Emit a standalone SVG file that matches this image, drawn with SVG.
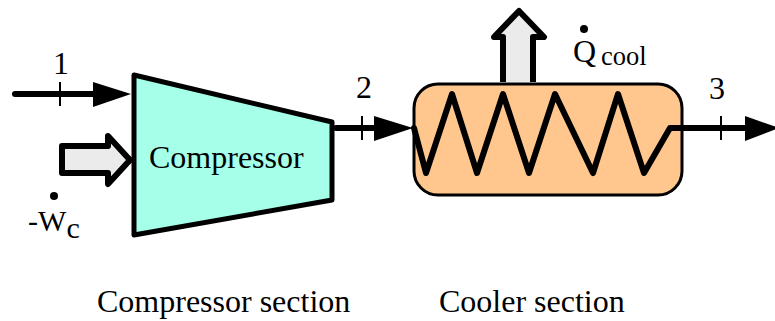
<svg xmlns="http://www.w3.org/2000/svg" width="775" height="321" viewBox="0 0 775 321">
<style>
text{font-family:"Liberation Serif","Times New Roman",serif;fill:#000;font-size:32px}
.l{fill:none;stroke:#000;stroke-width:6;stroke-linecap:round;stroke-linejoin:round}
.k{fill:none;stroke:#000;stroke-width:2}
.h{fill:#000}
.b{fill:#ebebeb;stroke:#000;stroke-width:6;stroke-linejoin:round}
</style>
<rect width="775" height="321" fill="#fff"/>
<g id="connectors">
<path class="l" d="M15 94H98"/><path class="k" d="M60 82V106"/><path class="h" d="M93 82L131 94L93 107Z"/>
<path class="l" d="M336 128H378"/><path class="k" d="M362 116V140"/><path class="h" d="M374 116L413 128L374 141Z"/>
<path class="l" d="M670 128H750"/><path class="k" d="M721 116V140"/><path class="h" d="M745 116L779 128L745 141Z"/>
</g>
<g id="work-arrow"><path class="b" d="M62 146H108V136L130 160L108 184V173H62Z"/></g>
<g id="heat-arrow"><path class="b" d="M503 82V37H494L519 11L544 37H533V82"/></g>
<g id="compressor"><path d="M134 75L332 122V200L134 235Z" fill="#a6ffe9" stroke="#000" stroke-width="5" stroke-linejoin="round"/>
<text x="149" y="168">Compressor</text></g>
<g id="cooler"><rect x="414" y="84" width="268" height="111" rx="24" fill="#ffc68e" stroke="#000" stroke-width="3"/>
<path class="l" d="M414 128L426 173L452 94L477 173L503 94L529 173L555 94L593 173L618 94L644 173L670 128H682"/></g>
<g id="labels">
<text x="53" y="74">1</text><text x="356" y="98">2</text><text x="709" y="99">3</text>
<text x="28" y="231" style="font-size:30px">-W</text><text x="66.5" y="238" style="font-size:30px">c</text><circle cx="54" cy="196" r="4"/>
<text x="573" y="62">Q</text><text x="601" y="65" style="font-size:26.5px">cool</text><circle cx="584" cy="29" r="4"/>
<text x="97" y="312">Compressor section</text>
<text x="439" y="312">Cooler section</text>
</g>
</svg>
